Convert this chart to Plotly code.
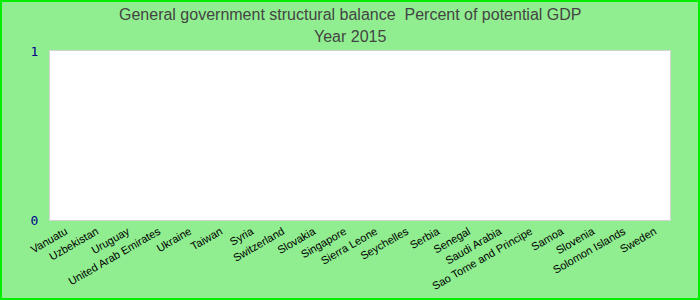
import plotly.graph_objects as go

countries = ["Vanuatu", "Uzbekistan", "Uruguay", "United Arab Emirates", "Ukraine",
             "Taiwan", "Syria", "Switzerland", "Slovakia", "Singapore",
             "Sierra Leone", "Seychelles", "Serbia", "Senegal", "Saudi Arabia",
             "Sao Tome and Principe", "Samoa", "Slovenia", "Solomon Islands", "Sweden"]
values = [None] * len(countries)
y_ticks = [0, 1]
title_lines = ["General government structural balance  Percent of potential GDP", "Year 2015"]

W, H = 700, 300
L, R, T, B = 50, 30, 51, 80
pw, ph = W - L - R, H - T - B

fig = go.Figure(go.Bar(x=countries, y=values, marker_color="#4682B4"))

title_font = dict(family="Liberation Sans, Arial", size=16, color="#444444")
annotations = []
for py, txt in zip([14, 36], title_lines):
    annotations.append(dict(
        text=txt, xref="paper", yref="paper",
        x=(350 - L) / pw, y=1 + (T - py) / ph,
        xanchor="center", yanchor="middle", showarrow=False, font=title_font,
    ))

fig.update_layout(
    width=W, height=H,
    margin=dict(l=L, r=R, t=T, b=B, pad=0, autoexpand=False),
    paper_bgcolor="#90EE90",
    plot_bgcolor="white",
    showlegend=False,
    annotations=annotations,
    xaxis=dict(
        type="category", categoryorder="array", categoryarray=countries,
        range=[-0.5, len(countries) - 0.5], automargin=False,
        tickangle=-30, showgrid=False, ticks="",
        showline=True, mirror=True, linecolor="#d3d3d3", linewidth=1,
        tickfont=dict(family="Liberation Sans, Arial", size=11, color="black"),
    ),
    yaxis=dict(
        range=[0, 1], tickvals=y_ticks, showgrid=False, zeroline=False,
        automargin=False,
        showline=True, mirror=True, linecolor="#d3d3d3", linewidth=1,
        ticks="", ticklabelstandoff=8,
        tickfont=dict(family="DejaVu Sans Mono", size=13, color="#00008B"),
    ),
    shapes=[dict(
        type="rect", xref="paper", yref="paper",
        x0=-(L - 1) / pw, x1=1 + (R - 1) / pw,
        y0=-(B - 1) / ph, y1=1 + (T - 1) / ph,
        line=dict(color="#00EE00", width=2), fillcolor="rgba(0,0,0,0)",
        layer="above",
    )],
)

fig.write_html("out.html")
